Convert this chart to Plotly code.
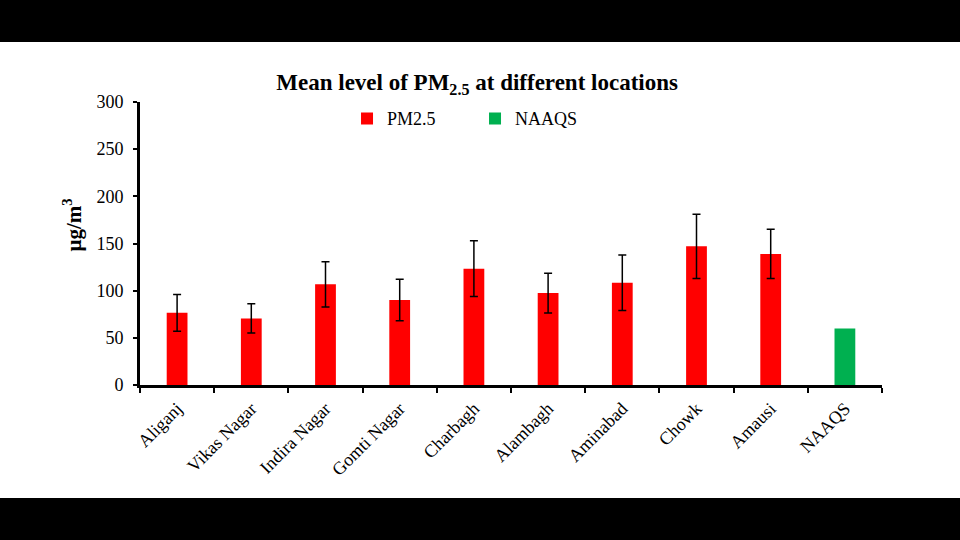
import plotly.graph_objects as go

locations = ["Aliganj", "Vikas Nagar", "Indira Nagar", "Gomti Nagar", "Charbagh",
             "Alambagh", "Aminabad", "Chowk", "Amausi", "NAAQS"]
pm25_mean = [76.5, 70.6, 106.7, 90, 123.3, 97.4, 108.4, 147, 139, None]
pm25_err = [19.5, 15.5, 24, 22, 29.5, 21, 29.5, 34, 26, None]
naaqs_val = [None, None, None, None, None, None, None, None, None, 60]

font_family = "Liberation Serif, Times New Roman, serif"

fig = go.Figure()

fig.add_trace(go.Bar(
    x=locations, y=pm25_mean, name="PM2.5",
    marker=dict(color="#ff0000", line=dict(width=0)),
    width=0.28,
    error_y=dict(type="data", array=pm25_err, visible=True,
                 color="black", thickness=1.5, width=4),
))
fig.add_trace(go.Bar(
    x=locations, y=naaqs_val, name="NAAQS",
    marker=dict(color="#00b050", line=dict(width=0)),
    width=0.28,
))

# plot area spans 102..385 px, white band spans 42..497 px
top_edge = (384.7 - 42.5) / 282.4
bottom_edge = (384.7 - 497.5) / 282.4

fig.update_layout(
    width=960, height=540,
    margin=dict(l=140, r=78, t=102, b=155),
    paper_bgcolor="white", plot_bgcolor="white",
    barmode="overlay",
    font=dict(family=font_family, size=18, color="black"),
    title=dict(text="<b>Mean level of PM<sub>2.5</sub> at different locations</b>",
               x=0.497, xref="container", xanchor="center",
               y=0.848, yref="container", yanchor="middle",
               font=dict(family=font_family, size=23, color="black")),
    legend=dict(orientation="h", x=0.279, xanchor="left", y=0.941, yanchor="middle",
                bgcolor="rgba(0,0,0,0)", font=dict(size=18),
                entrywidthmode="pixels", entrywidth=83),
    xaxis=dict(showline=True, linecolor="black", linewidth=3,
               ticks="outside", tickson="boundaries", ticklen=5, tickwidth=2,
               tickcolor="black", tickangle=-45, tickfont=dict(size=18),
               ticklabelstandoff=3, showgrid=False),
    yaxis=dict(range=[0, 300], dtick=50, showline=True, linecolor="black",
               linewidth=3, ticks="outside", ticklen=4, tickwidth=2,
               tickcolor="black", showgrid=False, zeroline=False,
               tickfont=dict(size=18), ticklabelstandoff=6),
    annotations=[
        dict(text="<b>µg/m<sup>3</sup></b>", textangle=-90,
             xref="paper", yref="paper", x=-0.091, y=0.565,
             xanchor="center", yanchor="middle", showarrow=False,
             font=dict(size=21, family=font_family, color="black")),
    ],
    shapes=[
        dict(type="rect", xref="paper", yref="paper", x0=-1, x1=2,
             y0=top_edge, y1=3, fillcolor="black", line=dict(width=0)),
        dict(type="rect", xref="paper", yref="paper", x0=-1, x1=2,
             y0=-3, y1=bottom_edge, fillcolor="black", line=dict(width=0)),
    ],
)

fig.write_html("out.html", config={"displayModeBar": False},
               post_script="document.body.style.margin='0';document.body.style.overflow='hidden';")
